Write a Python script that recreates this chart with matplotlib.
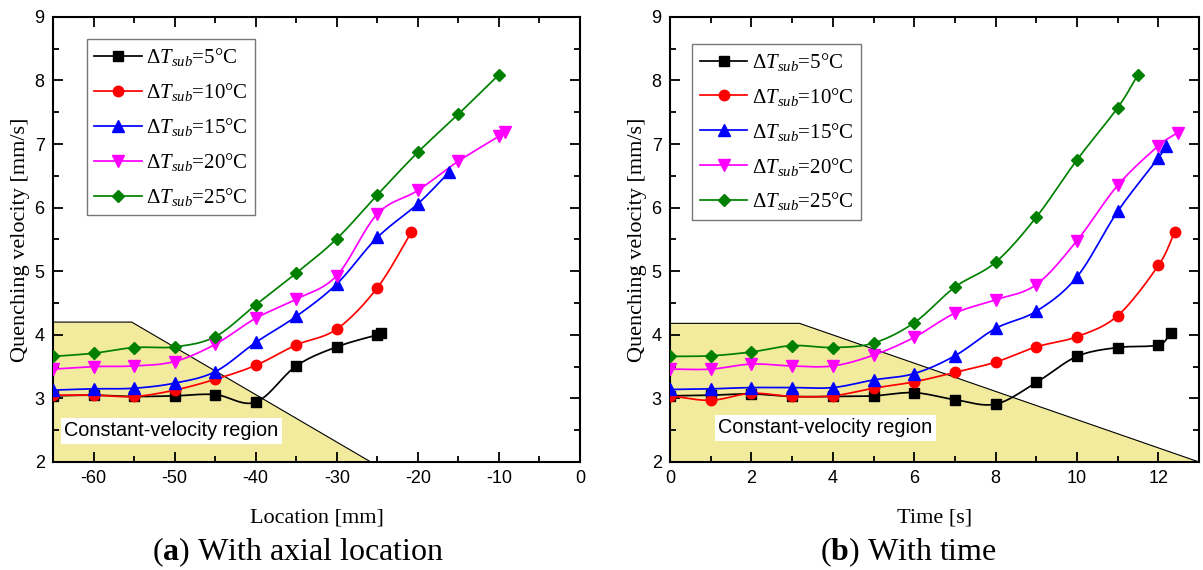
import numpy as np
import matplotlib
matplotlib.use("Agg")
import matplotlib.pyplot as plt
from matplotlib.ticker import MultipleLocator

plt.rcParams["mathtext.fontset"] = "custom"
plt.rcParams["mathtext.rm"] = "Liberation Serif"
plt.rcParams["mathtext.it"] = "Liberation Serif:italic"
plt.rcParams["mathtext.bf"] = "Liberation Serif:bold"
plt.rcParams["axes.unicode_minus"] = False

# ---- data ----
labels = ["5", "10", "15", "20", "25"]

# (a) velocity vs axial location [mm]
loc_5 = [-65, -60, -55, -50, -45, -40, -35, -30, -25, -24.5]
vel_loc_5 = [3.04, 3.05, 3.03, 3.04, 3.06, 2.94, 3.51, 3.81, 4.00, 4.03]
loc_10 = [-65, -60, -55, -50, -45, -40, -35, -30, -25, -20.8]
vel_loc_10 = [3.05, 3.05, 3.03, 3.13, 3.30, 3.52, 3.84, 4.09, 4.74, 5.61]
loc_15 = [-65, -60, -55, -50, -45, -40, -35, -30, -25, -20, -16.1]
vel_loc_15 = [3.13, 3.15, 3.16, 3.24, 3.42, 3.88, 4.29, 4.80, 5.53, 6.06, 6.56]
loc_20 = [-65, -60, -55, -50, -45, -40, -35, -30, -25, -20, -15, -10, -9.2]
vel_loc_20 = [3.46, 3.50, 3.51, 3.58, 3.85, 4.26, 4.56, 4.93, 5.90, 6.27, 6.73, 7.12, 7.19]
loc_25 = [-65, -60, -55, -50, -45, -40, -35, -30, -25, -20, -15, -10]
vel_loc_25 = [3.66, 3.71, 3.80, 3.81, 3.97, 4.47, 4.97, 5.51, 6.20, 6.87, 7.47, 8.09]

# (b) velocity vs time [s]
t_5 = [0, 1, 2, 3, 4, 5, 6, 7, 8, 9, 10, 11, 12, 12.3]
vel_t_5 = [3.04, 3.05, 3.07, 3.03, 3.03, 3.04, 3.09, 2.98, 2.91, 3.25, 3.66, 3.80, 3.84, 4.03]
t_10 = [0, 1, 2, 3, 4, 5, 6, 7, 8, 9, 10, 11, 12, 12.4]
vel_t_10 = [3.04, 2.97, 3.08, 3.03, 3.04, 3.16, 3.26, 3.41, 3.57, 3.81, 3.97, 4.30, 5.09, 5.61]
t_15 = [0, 1, 2, 3, 4, 5, 6, 7, 8, 9, 10, 11, 12, 12.2]
vel_t_15 = [3.14, 3.15, 3.17, 3.17, 3.17, 3.29, 3.39, 3.67, 4.10, 4.37, 4.91, 5.94, 6.78, 6.97]
t_20 = [0, 1, 2, 3, 4, 5, 6, 7, 8, 9, 10, 11, 12, 12.48]
vel_t_20 = [3.46, 3.46, 3.54, 3.51, 3.51, 3.68, 3.96, 4.34, 4.55, 4.79, 5.48, 6.35, 6.97, 7.18]
t_25 = [0, 1, 2, 3, 4, 5, 6, 7, 8, 9, 10, 11, 11.5]
vel_t_25 = [3.66, 3.67, 3.73, 3.83, 3.80, 3.87, 4.19, 4.75, 5.14, 5.85, 6.75, 7.57, 8.09]

# constant-velocity region outlines
region_a_x = [-65, -55.3, -25.8]
region_a_y = [4.2, 4.2, 2.0]
region_b_x = [0, 3.18, 13.0]
region_b_y = [4.18, 4.18, 2.0]

colors = ["black", "red", "blue", "magenta", "green"]
markers = ["s", "o", "^", "v", "D"]
msizes = [6.5, 7.5, 8, 8, 6.5]


def smooth(x, y, n=12):
    """Catmull-Rom curve through the points, only for drawing the line."""
    x = np.asarray(x, float)
    y = np.asarray(y, float)
    px = np.concatenate([[2 * x[0] - x[1]], x, [2 * x[-1] - x[-2]]])
    py = np.concatenate([[2 * y[0] - y[1]], y, [2 * y[-1] - y[-2]]])
    xs, ys = [], []
    s = np.linspace(0, 1, n, endpoint=False)
    for i in range(1, len(px) - 2):
        for arr, out in ((px, xs), (py, ys)):
            p0, p1, p2, p3 = arr[i - 1], arr[i], arr[i + 1], arr[i + 2]
            out.extend(0.5 * (2 * p1 + (-p0 + p2) * s
                              + (2 * p0 - 5 * p1 + 4 * p2 - p3) * s ** 2
                              + (-p0 + 3 * p1 - 3 * p2 + p3) * s ** 3))
    xs.append(x[-1])
    ys.append(y[-1])
    return np.array(xs), np.array(ys)


def draw_panel(ax, series, region_x, region_y, text_xy, xlim, xmajor, xminor,
               xlabel, legend_anchor):
    poly_x = [region_x[0]] + list(region_x) + [region_x[0]]
    poly_y = [2.0] + list(region_y) + [2.0]
    ax.fill(poly_x, poly_y, facecolor="#f2eb9e", edgecolor="none", zorder=1)
    ax.plot(region_x, region_y, color="black", lw=0.8, zorder=1.5)
    ax.text(text_xy[0], text_xy[1], "Constant-velocity region",
            family="Liberation Sans", fontsize=14.3, va="center", ha="left",
            bbox=dict(facecolor="white", edgecolor="none", pad=2.5), zorder=2)

    for (x, y), c, m, ms, lab in zip(series, colors, markers, msizes, labels):
        sx, sy = smooth(x, y)
        ax.plot(sx, sy, color=c, lw=1.25, zorder=3)
        ax.plot(x, y, ls="none", marker=m, ms=ms, color=c, zorder=4)
        ax.plot([], [], color=c, lw=1.25, marker=m, ms=ms,
                label=r"$\Delta T_{sub}$=" + lab + "°C")

    ax.set_xlim(*xlim)
    ax.set_ylim(2, 9)
    ax.xaxis.set_major_locator(MultipleLocator(xmajor))
    ax.xaxis.set_minor_locator(MultipleLocator(xminor))
    ax.yaxis.set_major_locator(MultipleLocator(1))
    ax.yaxis.set_minor_locator(MultipleLocator(0.5))
    ax.tick_params(which="both", direction="in", top=True, right=True,
                   width=1.3)
    ax.tick_params(which="major", length=7, labelsize=13, pad=6)
    ax.tick_params(which="minor", length=4)
    for lbl in ax.get_xticklabels() + ax.get_yticklabels():
        lbl.set_family("Liberation Sans")
    for sp in ax.spines.values():
        sp.set_linewidth(1.5)
    ax.set_xlabel(xlabel, family="Liberation Serif", fontsize=16, labelpad=15)
    ax.set_ylabel("Quenching velocity [mm/s]", family="Liberation Serif",
                  fontsize=16, labelpad=3)
    leg = ax.legend(loc="upper left", bbox_to_anchor=legend_anchor,
                    borderaxespad=0, fancybox=False, handlelength=2.3,
                    prop={"family": "Liberation Serif", "size": 15},
                    labelspacing=0.62, borderpad=0.35, handletextpad=0.2)
    leg.get_frame().set_edgecolor("#555555")
    leg.get_frame().set_linewidth(1.0)
    leg.set_zorder(5)


fig = plt.figure(figsize=(12.03, 5.70), dpi=100)
ax1 = fig.add_axes([0.0441, 0.1895, 0.438, 0.781])
ax2 = fig.add_axes([0.557, 0.1895, 0.4397, 0.781])

series_a = [(loc_5, vel_loc_5), (loc_10, vel_loc_10), (loc_15, vel_loc_15),
            (loc_20, vel_loc_20), (loc_25, vel_loc_25)]
series_b = [(t_5, vel_t_5), (t_10, vel_t_10), (t_15, vel_t_15),
            (t_20, vel_t_20), (t_25, vel_t_25)]

draw_panel(ax1, series_a, region_a_x, region_a_y, (-63.6, 2.49), (-65, 0),
           10, 5, "Location [mm]", (0.064, 0.95))
draw_panel(ax2, series_b, region_b_x, region_b_y, (1.18, 2.54), (0, 13),
           2, 1, "Time [s]", (0.042, 0.94))

fig.text(0.2477, 0.032, r"($\mathbf{a}$) With axial location",
         family="Liberation Serif", fontsize=23, ha="center", va="center")
fig.text(0.755, 0.032, r"($\mathbf{b}$) With time",
         family="Liberation Serif", fontsize=23, ha="center", va="center")

fig.savefig("out.png", dpi=100)
